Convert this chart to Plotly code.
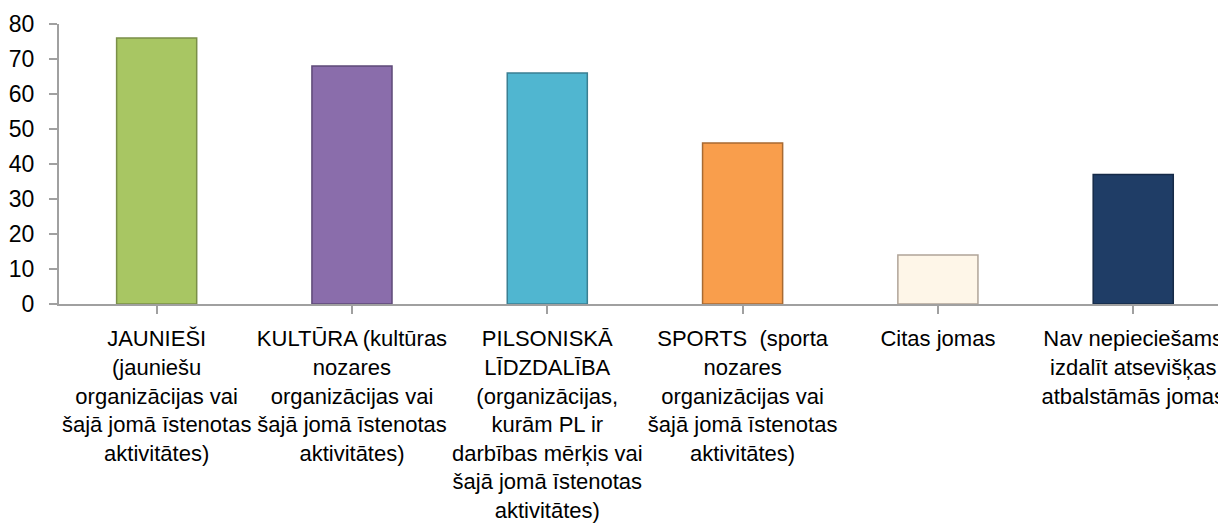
import plotly.graph_objects as go

categories = [
    "JAUNIEŠI<br>(jauniešu<br>organizācijas vai<br>šajā jomā īstenotas<br>aktivitātes)",
    "KULTŪRA (kultūras<br>nozares<br>organizācijas vai<br>šajā jomā īstenotas<br>aktivitātes)",
    "PILSONISKĀ<br>LĪDZDALĪBA<br>(organizācijas,<br>kurām PL ir<br>darbības mērķis vai<br>šajā jomā īstenotas<br>aktivitātes)",
    "SPORTS  (sporta<br>nozares<br>organizācijas vai<br>šajā jomā īstenotas<br>aktivitātes)",
    "Citas jomas",
    "Nav nepieciešams<br>izdalīt atsevišķas<br>atbalstāmās jomas",
]
values = [76, 68, 66, 46, 14, 37]
bar_colors = ["#A8C663", "#8A6DAB", "#50B6D0", "#F99E4C", "#FEF6E8", "#1F3D66"]
edge_colors = ["#7A8F48", "#5E4A78", "#3A7F92", "#A86A32", "#B0A498", "#152A47"]
y_ticks = [0, 10, 20, 30, 40, 50, 60, 70, 80]

fig = go.Figure(
    go.Bar(
        x=list(range(len(categories))),
        y=values,
        width=0.41,
        marker=dict(color=bar_colors, line=dict(color=edge_colors, width=1.5)),
    )
)

font = dict(family="Liberation Sans, Arial, sans-serif", size=22, color="#000000")
yfont = dict(family="Liberation Sans, Arial, sans-serif", size=23, color="#000000")

# page body has an 8px default margin, so the figure is sized to fit the window
fig.update_layout(
    width=1218,
    height=523,
    margin=dict(l=51, r=0, t=16, b=227),
    plot_bgcolor="white",
    paper_bgcolor="white",
    showlegend=False,
    font=font,
)

fig.update_xaxes(
    range=[-0.5, 5.475],
    automargin=False,
    tickmode="array",
    tickvals=list(range(len(categories))),
    ticktext=categories,
    tickson="boundaries",
    ticks="outside",
    ticklen=8,
    tickwidth=1.5,
    tickcolor="#A0A0A0",
    showline=True,
    linecolor="#A0A0A0",
    linewidth=2,
    showgrid=False,
    zeroline=False,
    tickangle=0,
    ticklabelstandoff=6,
    tickfont=font,
)

fig.update_yaxes(
    range=[0, 80],
    automargin=False,
    tickmode="array",
    tickvals=y_ticks,
    ticks="outside",
    ticklen=8,
    tickwidth=1.5,
    tickcolor="#A0A0A0",
    showline=True,
    linecolor="#A0A0A0",
    linewidth=2,
    showgrid=False,
    zeroline=False,
    ticklabelstandoff=10,
    tickfont=yfont,
)

fig.write_html("out.html")
